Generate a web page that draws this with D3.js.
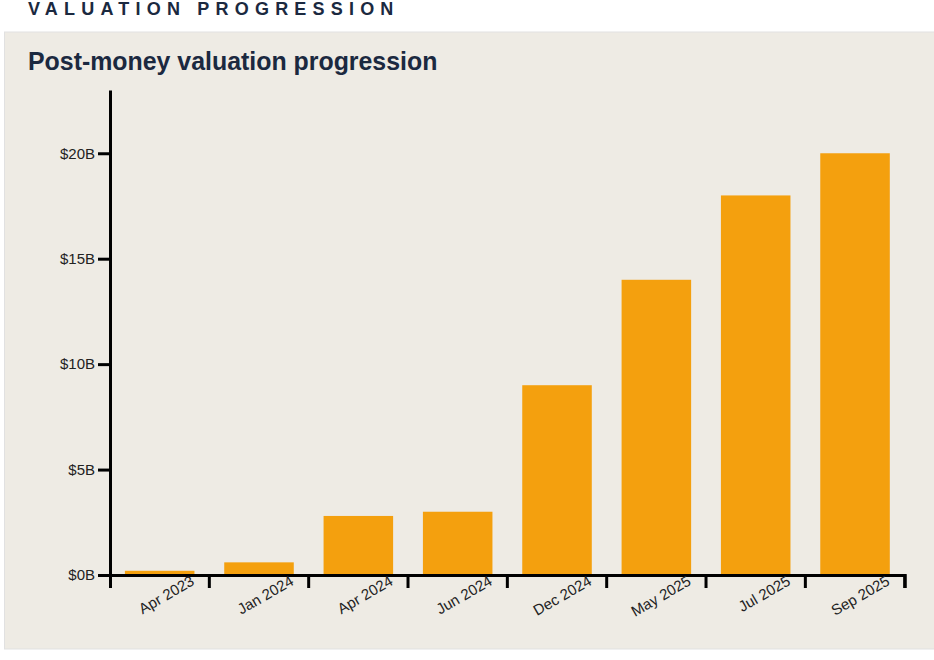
<!DOCTYPE html>
<html>
<head>
<meta charset="utf-8">
<script src="https://cdn.jsdelivr.net/npm/d3@7"></script>
<style>
  body { margin: 0; background: #fff; }
  svg { display: block; font-family: "Liberation Sans", Arial, Helvetica, sans-serif; }
</style>
</head>
<body>
<svg id="chart" width="934" height="660"></svg>
<script>
// data
const rounds = ["Apr 2023", "Jan 2024", "Apr 2024", "Jun 2024", "Dec 2024", "May 2025", "Jul 2025", "Sep 2025"];
const valuations = [0.2, 0.6, 2.8, 3.0, 9.0, 14.0, 18.0, 20.0]; // $B post-money
const yTicks = [0, 5, 10, 15, 20];

const svg = d3.select("#chart");

// section header (partly scrolled off the top)
svg.append("text")
  .attr("x", 28)
  .attr("y", 15)
  .attr("fill", "#1b2940")
  .style("font-size", "18px")
  .style("font-weight", "700")
  .style("letter-spacing", "6.2px")
  .text("VALUATION PROGRESSION");

// panel
svg.append("rect")
  .attr("x", 4.5)
  .attr("y", 32)
  .attr("width", 940)
  .attr("height", 617)
  .attr("fill", "#eeebe4")
  .attr("stroke", "#e1e1e1")
  .attr("stroke-width", 1);

svg.append("text")
  .attr("x", 28)
  .attr("y", 70)
  .attr("fill", "#1b2940")
  .style("font-size", "24.9px")
  .style("font-weight", "700")
  .text("Post-money valuation progression");

const margin = { left: 110, right: 29.3, top: 90, bottom: 85 };
const width = 934 - margin.left - margin.right;
const height = 660 - margin.top - margin.bottom;

const g = svg.append("g").attr("transform", `translate(${margin.left},${margin.top})`);

const x = d3.scaleBand()
  .domain(rounds)
  .range([0, width])
  .paddingInner(0.3)
  .paddingOuter(0.15);

const y = d3.scaleLinear()
  .domain([0, d3.max(valuations) * 1.15])
  .range([height, 0]);

// bars
g.append("g")
  .selectAll("rect")
  .data(rounds)
  .enter()
  .append("rect")
  .attr("x", d => x(d))
  .attr("y", (d, i) => y(valuations[i]))
  .attr("width", x.bandwidth())
  .attr("height", (d, i) => height - y(valuations[i]))
  .attr("fill", "#f4a00e");

// y axis
const yAxis = g.append("g")
  .call(d3.axisLeft(y)
    .tickValues(yTicks)
    .tickSize(12)
    .tickSizeOuter(0)
    .tickFormat(d => `$${d}B`));

// x axis, tick marks sit on the band boundaries
const step = x.step();
const xAxis = g.append("g")
  .attr("transform", `translate(0,${height})`)
  .call(d3.axisBottom(x).tickSize(13).tickSizeOuter(13));

xAxis.selectAll(".tick line")
  .attr("x1", step / 2)
  .attr("x2", step / 2);

xAxis.selectAll(".tick text")
  .attr("x", 0)
  .attr("y", 0)
  .attr("dy", 0)
  .attr("transform", `translate(${step / 2 - 14},9) rotate(-30)`)
  .style("text-anchor", "end");

[xAxis, yAxis].forEach(ax => {
  ax.attr("font-family", null).attr("font-size", null);
  ax.selectAll("path, line").attr("stroke", "#000").attr("stroke-width", 3);
  ax.selectAll("text").attr("fill", "#222").style("font-size", "15px");
});
</script>
</body>
</html>
